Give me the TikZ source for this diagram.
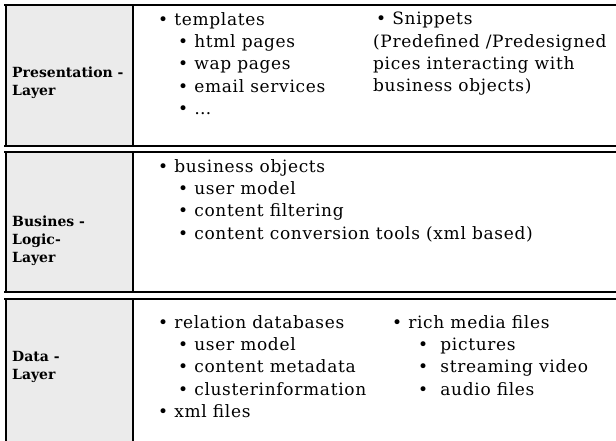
\documentclass[tikz,border=0pt]{standalone}
\usepackage{fontspec}
\setmainfont{DejaVu Serif}
\newfontfamily\listfont[LetterSpace=4]{DejaVu Serif}
\usetikzlibrary{positioning}
\newcommand{\bul}{\textbullet\ }
\newcommand{\subbul}[1][20pt]{\hspace*{#1}\textbullet\ }
\tikzset{
  labelcell/.style={draw=black, line width=2.4pt, fill=black!8},
  rowrule/.style={line width=1.5pt},
  layerlabel/.style={font=\bfseries\fontsize{14}{18}\selectfont, align=left, anchor=north west, inner sep=0pt},
  itemlist/.style={font=\listfont\fontsize{17}{22.3}\selectfont, align=left, anchor=north west, inner sep=0pt}
}
\begin{document}
\begin{tikzpicture}[x=1pt, y=-1pt]
  \useasboundingbox (0,0) rectangle (616,440);
  % three layer bands
  \foreach \ya/\yb in {5/146, 152/292, 299/442} {
    \draw[labelcell] (6,\ya) rectangle (133,\yb);
    \draw[rowrule] (4,\ya) -- (616,\ya);
    \draw[rowrule] (4,\yb) -- (616,\yb);
  }
  % presentation layer
  \node[layerlabel] (preslabel) at (12,67) {Presentation -\\Layer};
  \node[itemlist] (preslist) at (158,12) {\bul templates\\
    \subbul html pages\\ \subbul wap pages\\ \subbul email services\\ \subbul \dots};
  \node[itemlist] (pressnip) at (373,12) {\hspace*{3pt}\bul Snippets\\
    (Predefined /Predesigned\\ pices interacting with\\ business objects)};
  % business logic layer
  \node[layerlabel] (logiclabel) at (12,216) {Busines -\\Logic-\\Layer};
  \node[itemlist] (logiclist) at (158,159) {\bul business objects\\
    \subbul user model\\ \subbul content filtering\\ \subbul content conversion tools (xml based)};
  % data layer
  \node[layerlabel] (datalabel) at (12,351) {Data -\\Layer};
  \node[itemlist] (datalist) at (158,315) {\bul relation databases\\
    \subbul user model\\ \subbul content metadata\\ \subbul clusterinformation\\ \bul xml files};
  \node[itemlist] (datamedia) at (392,315) {\bul rich media files\\
    \subbul[26pt] pictures\\ \subbul[26pt] streaming video\\ \subbul[26pt] audio files};
\end{tikzpicture}
\end{document}
